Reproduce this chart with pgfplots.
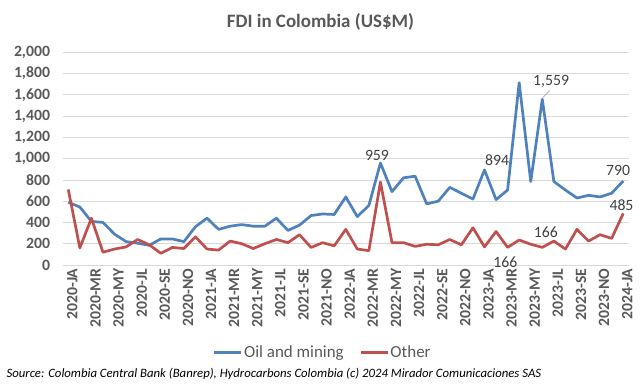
\documentclass[border=0pt]{standalone}
\usepackage{fontspec}
\setmainfont{Carlito}
\usepackage{pgfplots}
\pgfplotsset{compat=1.18}
\usepackage{pgfplotstable}
\definecolor{oil}{RGB}{79,129,189}
\definecolor{oth}{RGB}{192,80,77}
\definecolor{txt}{RGB}{89,89,89}
\definecolor{lbl}{RGB}{64,64,64}
\definecolor{gridc}{RGB}{217,217,217}

\pgfplotstableread{
i oil other
0 590 710
1 545 160
2 410 440
3 400 120
4 290 150
5 220 170
6 205 240
7 185 190
8 245 110
9 245 165
10 220 155
11 360 265
12 440 150
13 335 140
14 365 225
15 380 200
16 365 155
17 365 200
18 440 240
19 325 210
20 375 285
21 465 165
22 480 210
23 475 180
24 640 335
25 455 150
26 560 135
27 959 780
28 690 210
29 820 210
30 835 175
31 575 195
32 600 190
33 730 240
34 675 190
35 620 350
36 894 170
37 615 315
38 705 166
39 1715 235
40 785 195
41 1559 166
42 785 225
43 705 150
44 630 335
45 655 225
46 640 285
47 675 250
48 790 485
}\data

\begin{document}
\begin{tikzpicture}[x=1bp,y=1bp]
\path[use as bounding box] (0,0) rectangle (640,383);
\node[font=\bfseries\fontsize{19}{21}\selectfont, text=txt] at (320.5,361) {FDI in Colombia (US\$M)};
\node[anchor=west, font=\itshape\fontsize{12.8}{14}\selectfont, text=black] at (3,9) {Source: Colombia Central Bank (Banrep), Hydrocarbons Colombia (c) 2024 Mirador Comunicaciones SAS};
\begin{axis}[
  at={(62.5bp,118bp)}, anchor=south west,
  scale only axis, width=566.5bp, height=212.7bp,
  xmin=-0.5, xmax=48.5, ymin=0, ymax=2000,
  ytick={0,200,...,2000},
  xtick={0,2,...,48},
  xticklabels={2020-JA,2020-MR,2020-MY,2020-JL,2020-SE,2020-NO,2021-JA,2021-MR,2021-MY,2021-JL,2021-SE,2021-NO,2022-JA,2022-MR,2022-MY,2022-JL,2022-SE,2022-NO,2023-JA,2023-MR,2023-MY,2023-JL,2023-SE,2023-NO,2024-JA},
  axis line style={draw=none},
  major tick length=0pt,
  ymajorgrids, grid style={draw=gridc, line width=0.8bp},
  scaled y ticks=false,
  /pgf/number format/.cd, 1000 sep={,}, assume math mode=true,
  /pgfplots/.cd,
  yticklabel style={font=\bfseries\fontsize{15.8}{17}\selectfont, text=txt, xshift=-9bp},
  xticklabel style={font=\bfseries\fontsize{15.8}{17}\selectfont, text=txt, rotate=90, anchor=east, yshift=-4bp},
  legend style={at={(0.459,-0.413)}, anchor=center, draw=none, fill=none, font=\fontsize{17}{18}\selectfont, text=txt, legend columns=2, nodes={inner sep=1.5bp}, /tikz/every even column/.append style={column sep=14bp}},
  legend image code/.code={\draw[#1] (0bp,0bp) -- (27bp,0bp);},
  clip=false,
]
\addplot[oil, line width=2.7bp, line join=round] table[x=i, y=oil] {\data};
\addlegendentry{Oil and mining}
\addplot[oth, line width=2.7bp, line join=round] table[x=i, y=other] {\data};
\addlegendentry{Other}
\begin{scope}[every node/.style={font=\fontsize{15.8}{17}\selectfont, text=lbl, inner sep=1bp, anchor=center}]
\node at (axis cs:26.7,1028) {959};
\node at (axis cs:37.1,987) {894};
\draw[gray!70, line width=0.6bp] (axis cs:41.05,1575) -- (axis cs:41.65,1640);
\node at (axis cs:41.76,1730) {1,559};
\node at (axis cs:47.55,893) {790};
\node at (axis cs:47.85,560) {485};
\node at (axis cs:37.8,24) {166};
\node at (axis cs:41.3,305) {166};
\end{scope}
\end{axis}
\end{tikzpicture}
\end{document}
